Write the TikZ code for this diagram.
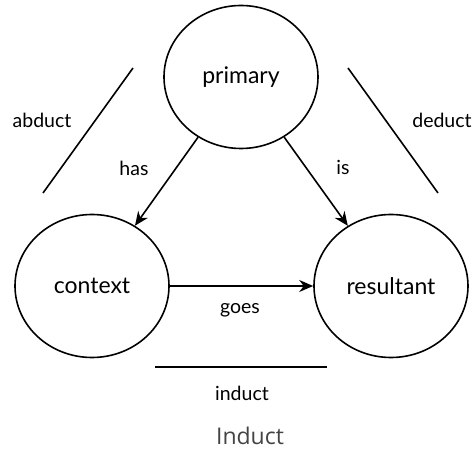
\documentclass[tikz,border=0pt]{standalone}
\usepackage{fontspec}
\setmainfont{Lato}
\newfontfamily\capfont{Open Sans}
\usetikzlibrary{arrows.meta,positioning,shapes.geometric}
\definecolor{capgray}{HTML}{444444}

\begin{document}
\begin{tikzpicture}[x=1pt, y=-1pt,
  blob/.style={draw, ellipse, minimum width=154pt, minimum height=143pt, line width=1.6pt, font=\fontsize{23}{26}\selectfont},
  arr/.style={-{Stealth[length=14pt, width=12pt]}, line width=1.6pt},
  tag/.style={font=\fontsize{19.5}{22}\selectfont},
  bar/.style={line width=1.6pt}
]
  \useasboundingbox (0,0) rectangle (475,454);

  \node[blob] (primary) at (241,77) {primary};
  \node[blob] (context) at (92,286) {context};
  \node[blob] (resultant) at (391,286) {resultant};

  \draw[arr] (primary) -- (context);
  \draw[arr] (primary) -- (resultant);
  \draw[arr] (context) -- (resultant);

  \node[tag] (has) at (134,168) {has};
  \node[tag] (is) at (343,167) {is};
  \node[tag] (goes) at (240,310) {goes};

  % side strokes
  \coordinate (ab1) at (133,68);
  \coordinate (ab2) at (43,193);
  \coordinate (de1) at (348,68);
  \coordinate (de2) at (438,193);
  \coordinate (in1) at (155,367);
  \coordinate (in2) at (327,367);
  \draw[bar] (ab1) -- (ab2);
  \draw[bar] (de1) -- (de2);
  \draw[bar] (in1) -- (in2);

  \node[tag] (abduct) at (42,120) {abduct};
  \node[tag] (deduct) at (442,120) {deduct};
  \node[tag] (induct) at (242,393) {induct};

  \node[font=\capfont\fontsize{23}{26}\selectfont, text=capgray, inner sep=0pt, anchor=base] (caption) at (250,445) {Induct};
\end{tikzpicture}
\end{document}
